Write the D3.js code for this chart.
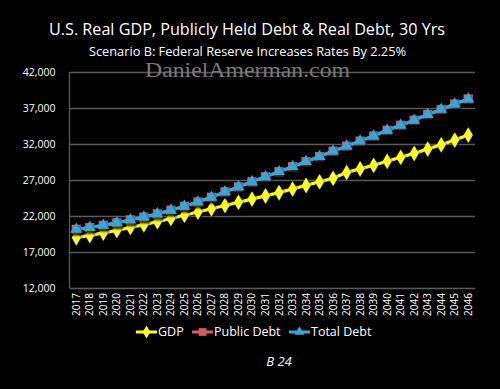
<!DOCTYPE html>
<html>
<head>
<meta charset="utf-8">
<script src="https://cdn.jsdelivr.net/npm/d3@7"></script>
<style>
  body { margin: 0; background: #000; }
  svg { display: block; }
</style>
</head>
<body>
<svg id="chart" width="500" height="389"></svg>
<script>
// years along the bottom
const years = d3.range(2017, 2047).map(String);

// values (billions, real)
const gdp = [19000, 19300, 19650, 20000, 20400, 20800, 21200, 21650, 22100, 22550,
  23000, 23450, 23900, 24350, 24800, 25250, 25750, 26250, 26750, 27250,
  28050, 28550, 29050, 29600, 30150, 30700, 31300, 31900, 32550, 33250];
const publicDebt = [20150, 20400, 20700, 21050, 21450, 21850, 22300, 22800, 23350, 23950,
  24600, 25350, 26050, 26750, 27450, 28150, 28850, 29550, 30250, 31000,
  31700, 32400, 33100, 33900, 34600, 35300, 36100, 36800, 37550, 38250];
const totalDebt = [20150, 20400, 20700, 21050, 21450, 21850, 22300, 22800, 23350, 23950,
  24600, 25350, 26050, 26750, 27450, 28150, 28850, 29550, 30250, 31000,
  31700, 32400, 33100, 33900, 34600, 35300, 36100, 36800, 37550, 38250];
const yTicks = [12000, 17000, 22000, 27000, 32000, 37000, 42000];

const margin = { top: 72, right: 25, bottom: 101, left: 69.5 },
    width = 500 - margin.left - margin.right,
    height = 389 - margin.top - margin.bottom;

const svg = d3.select('#chart');

// drop shadow for markers
const defs = svg.append('defs');
const f = defs.append('filter').attr('id', 'shadow')
    .attr('x', '-50%').attr('y', '-50%').attr('width', '200%').attr('height', '200%');
f.append('feDropShadow').attr('dx', 1).attr('dy', 1.5).attr('stdDeviation', 0.8)
    .attr('flood-color', '#000').attr('flood-opacity', 0.8);

// titles
svg.append('text')
    .attr('x', 247).attr('y', 35)
    .attr('text-anchor', 'middle')
    .attr('fill', '#fff')
    .style('font-family', 'Open Sans, sans-serif')
    .style('font-size', '17px')
    .attr('textLength', 396).attr('lengthAdjust', 'spacingAndGlyphs')
    .text('U.S. Real GDP, Publicly Held Debt & Real Debt, 30 Yrs');

svg.append('text')
    .attr('x', 247.5).attr('y', 56)
    .attr('text-anchor', 'middle')
    .attr('fill', '#fff')
    .style('font-family', 'Open Sans, sans-serif')
    .style('font-size', '12px')
    .attr('textLength', 317).attr('lengthAdjust', 'spacingAndGlyphs')
    .text('Scenario B: Federal Reserve Increases Rates By 2.25%');

const g = svg.append('g')
    .attr('transform', 'translate(' + margin.left + ',' + margin.top + ')');

const xScale = d3.scaleBand()
    .domain(years)
    .range([0, width]);

const yScale = d3.scaleLinear()
    .domain([12000, 42000])
    .range([height, 0]);

const xc = d => xScale(d) + xScale.bandwidth() / 2;

// gridlines
g.append('g')
    .call(d3.axisLeft(yScale).tickValues(yTicks).tickSize(-width).tickFormat(''))
    .call(s => s.select('.domain').remove())
    .selectAll('line')
    .attr('stroke', '#5a5a5a')
    .attr('stroke-width', 1.3);

// left axis line
g.append('line')
    .attr('x1', 0).attr('x2', 0)
    .attr('y1', 0).attr('y2', height)
    .attr('stroke', '#5a5a5a').attr('stroke-width', 1.3);

// watermark over the top gridline
svg.append('text')
    .attr('x', 247.5).attr('y', 77)
    .attr('text-anchor', 'middle')
    .attr('fill', '#7a7a7a')
    .style('font-family', 'Liberation Serif, DejaVu Serif, serif')
    .style('font-size', '22px')
    .attr('textLength', 205).attr('lengthAdjust', 'spacingAndGlyphs')
    .text('DanielAmerman.com');

// y labels
g.append('g')
    .call(d3.axisLeft(yScale).tickValues(yTicks).tickSize(0).tickPadding(14)
        .tickFormat(d3.format(',')))
    .call(s => s.select('.domain').remove())
    .selectAll('text')
    .attr('fill', '#fff')
    .style('font-family', 'Open Sans, sans-serif')
    .style('font-size', '10.5px');

// x labels, rotated
g.append('g')
    .attr('transform', 'translate(0,' + height + ')')
    .call(d3.axisBottom(xScale).tickSize(0))
    .call(s => s.select('.domain').remove())
    .selectAll('text')
    .attr('fill', '#fff')
    .style('font-family', 'Open Sans, sans-serif')
    .style('font-size', '10px')
    .attr('transform', 'rotate(-90)')
    .attr('text-anchor', 'end')
    .attr('x', -5).attr('y', 0).attr('dy', '0.35em');

const line = d3.line()
    .x((d, i) => xc(years[i]))
    .y(d => yScale(d));

const series = [
  { name: 'GDP', values: gdp, color: '#ffff1a', symbol: d3.symbolDiamond, size: 70 },
  { name: 'Public Debt', values: publicDebt, color: '#e05a55', symbol: d3.symbolSquare, size: 85 },
  { name: 'Total Debt', values: totalDebt, color: '#2eaae1', symbol: d3.symbolTriangle, size: 60 }
];

series.forEach(s => {
  g.append('path')
      .datum(s.values)
      .attr('fill', 'none')
      .attr('stroke', s.color)
      .attr('stroke-width', 3.2)
      .attr('d', line);

  g.append('g')
      .attr('filter', 'url(#shadow)')
      .selectAll('path')
      .data(s.values)
      .enter()
      .append('path')
      .attr('transform', (d, i) => 'translate(' + xc(years[i]) + ',' + yScale(d) + ')')
      .attr('d', d3.symbol().type(s.symbol).size(s.size))
      .attr('fill', s.color);
});

// legend
const legendX = [136, 192, 289];
const legend = svg.append('g').attr('transform', 'translate(0,332)');
series.forEach((s, i) => {
  const lg = legend.append('g').attr('transform', 'translate(' + legendX[i] + ',0)');
  lg.append('line')
      .attr('x1', 0).attr('x2', 21)
      .attr('stroke', s.color).attr('stroke-width', 3);
  lg.append('path')
      .attr('transform', 'translate(10.5,0)')
      .attr('d', d3.symbol().type(s.symbol).size(s.size * 0.7))
      .attr('fill', s.color);
  lg.append('text')
      .attr('x', 22).attr('dy', '0.35em')
      .attr('fill', '#fff')
      .style('font-family', 'Open Sans, sans-serif')
      .style('font-size', '12.5px')
      .text(s.name);
});

// footnote
svg.append('text')
    .attr('x', 279).attr('y', 366)
    .attr('text-anchor', 'middle')
    .attr('fill', '#fff')
    .style('font-family', 'Open Sans, sans-serif')
    .style('font-style', 'italic')
    .style('font-size', '13px')
    .text('B 24');
</script>
</body>
</html>
